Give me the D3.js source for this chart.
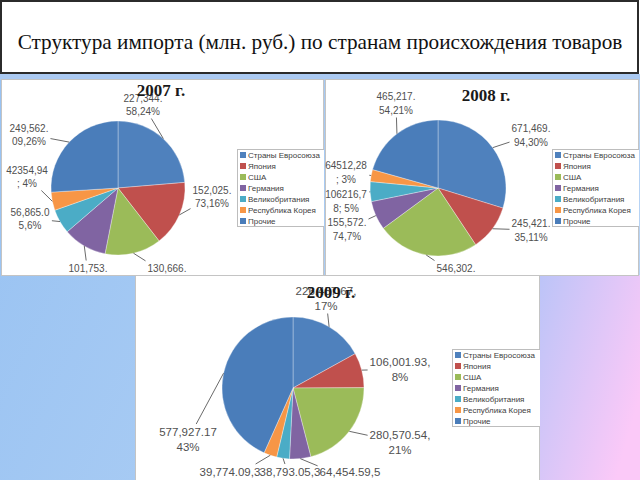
<!DOCTYPE html>
<html><head><meta charset="utf-8">
<script src="https://cdn.jsdelivr.net/npm/d3@7"></script>
<style>html,body{margin:0;padding:0;background:#fff;overflow:hidden}</style>
</head><body><svg id="c" width="640" height="480"></svg>
<script>
// ---------- DATA ----------
const title = "Структура импорта (млн. руб.) по странам происхождения товаров";
const categories = ["Страны Евросоюза","Япония","США","Германия","Великобритания","Республика Корея","Прочие"];
const years = ["2007 г.","2008 г.","2009 г."];
const values2007 = [227344.58, 152025.73, 130666.41, 101753.26, 56865.05, 42354.94, 249562.09];
const values2008 = [671469.94, 245421.35, 546302.13, 155572.74, 106216.78, 64512.28, 465217.54];
const values2009 = [226457.67, 106001.93, 280570.54, 64454.59, 38793.05, 39774.09, 577927.17];
const labels2007 = ["227,344.58,24%","152,025.73,16%","130,666.41,14%","101,753.26,11%","56,865.05,6%","42354,94; 4%","249,562.09,26%"];
const labels2008 = ["671,469.94,30%","245,421.35,11%","546,302.13,24%","155,572.74,7%","106216,78; 5%","64512,28; 3%","465,217.54,21%"];
const labels2009 = ["226,457.67,17%","106,001.93,8%","280,570.54,21%","64,454.59,5%","38,793.05,3%","39,774.09,3%","577,927.17 43%"];
const colors = ["#4f81bd","#c0504d","#9bbb59","#8064a2","#4bacc6","#f79646","#4a7dba"];

// ---------- LAYOUT ----------
const charts = [
  {year: years[0], values: values2007, labels: labels2007,
   panel:{x:1,y:79,w:323,h:196}, cx:118, cy:188, r:67, tx:161, ty:90,
   legend:{x:237,y:149,w:88}, font:10, wrap:8, lineH:13,
   off:[[25,-90],[94,2],[49,80],[-30,80],[-88,24],[-91,-18],[-89,-60]]},
  {year: years[1], values: values2008, labels: labels2008,
   panel:{x:325,y:79,w:314,h:196}, cx:438, cy:188, r:68, tx:486, ty:95,
   legend:{x:552,y:149,w:87}, font:10, wrap:8, lineH:14,
   off:[[93,-60],[93,35],[18,80],[-91,34],[-92,6],[-92,-23],[-42,-92]]},
  {year: years[2], values: values2009, labels: labels2009,
   panel:{x:135,y:275,w:405,h:206}, cx:293, cy:388, r:71, tx:331, ty:292,
   legend:{x:452,y:349,w:88}, font:11.5, wrap:11, lineH:14.5,
   off:[[33,-97],[107,-26],[107,47],[57,84],[-3,84],[-63,84],[-105,44]]}
];

const svg = d3.select("#c");
const defs = svg.append("defs");

// background gradients
const gl = defs.append("linearGradient").attr("id","gl").attr("x1","0").attr("y1","0").attr("x2","1").attr("y2","0.3");
gl.append("stop").attr("offset","0").attr("stop-color","#98c2f2");
gl.append("stop").attr("offset","1").attr("stop-color","#b6d3f5");
const gr = defs.append("linearGradient").attr("id","gr").attr("x1","0").attr("y1","0").attr("x2","1").attr("y2","0.6");
gr.append("stop").attr("offset","0").attr("stop-color","#bcc4f8");
gr.append("stop").attr("offset","1").attr("stop-color","#fbc9f8");

svg.append("rect").attr("x",0).attr("y",74).attr("width",640).attr("height",406).attr("fill","url(#gl)");
svg.append("rect").attr("x",540).attr("y",275).attr("width",100).attr("height",205).attr("fill","url(#gr)");
svg.append("rect").attr("x",0).attr("y",74).attr("width",640).attr("height",6).attr("fill","#abcaf2");

charts.forEach((c, ci) => {
  const p = c.panel;
  defs.append("clipPath").attr("id","clip"+ci).append("rect")
    .attr("x",p.x).attr("y",p.y).attr("width",p.w).attr("height",p.h);
  svg.append("rect").attr("x",p.x+0.5).attr("y",p.y+0.5).attr("width",p.w-1).attr("height",p.h)
    .attr("fill","#fff").attr("stroke","#c4c4c4").attr("stroke-width",1);
  const g = svg.append("g").attr("clip-path","url(#clip"+ci+")");

  const pie = d3.pie().sort(null).value(d => d)(c.values);
  const arc = d3.arc().innerRadius(0).outerRadius(c.r);
  const pg = g.append("g").attr("transform",`translate(${c.cx},${c.cy})`);
  pg.selectAll("path").data(pie).join("path")
    .attr("d", arc).attr("fill", (d,i) => colors[i])
    .attr("stroke","#ffffff").attr("stroke-opacity",0.55).attr("stroke-width",0.6);

  // labels
  const lg = g.append("g");
  pie.forEach((d, i) => {
    const s = c.labels[i];
    const lines = [];
    for (let k = 0; k < s.length; k += c.wrap) lines.push(s.slice(k, k + c.wrap));
    const lx = c.cx + c.off[i][0], ly = c.cy + c.off[i][1];
    const t = lg.append("text").attr("x", lx).attr("y", ly)
      .attr("text-anchor","middle").attr("font-family","'Liberation Sans', Arial, sans-serif")
      .attr("font-size", c.font).attr("fill","#505050");
    lines.forEach((ln, k) => {
      t.append("tspan").attr("x", lx).attr("y", ly + k * c.lineH).attr("dy","0.35em").text(ln.trim());
    });
    const bb = t.node().getBBox();
    const mid = (d.startAngle + d.endAngle) / 2;
    const ex = c.cx + c.r * Math.sin(mid), ey = c.cy - c.r * Math.cos(mid);
    const bh = Math.min(bb.height, c.lineH * 2);
    const bcx = bb.x + bb.width / 2, bcy = bb.y + bh / 2;
    const dx = ex - bcx, dy = ey - bcy, pad = 2;
    const txx = dx !== 0 ? (bb.width / 2 + pad) / Math.abs(dx) : Infinity;
    const tyy = dy !== 0 ? (bh / 2 + pad) / Math.abs(dy) : Infinity;
    const tt = Math.min(txx, tyy);
    if (tt < 1) {
      lg.append("line").attr("x1", bcx + dx * tt).attr("y1", bcy + dy * tt)
        .attr("x2", ex).attr("y2", ey).attr("stroke","#6a6a6a").attr("stroke-width",1);
    }
  });

  // legend
  const L = c.legend;
  const leg = g.append("g");
  leg.append("rect").attr("x",L.x+0.5).attr("y",L.y+0.5).attr("width",L.w).attr("height",77)
    .attr("fill","#fff").attr("stroke","#bdbdbd").attr("stroke-width",1);
  categories.forEach((name, i) => {
    const yy = L.y + 6 + i * 11;
    leg.append("rect").attr("x", L.x + 3).attr("y", yy - 3).attr("width",6).attr("height",6).attr("fill", colors[i]);
    leg.append("text").attr("x", L.x + 11).attr("y", yy).attr("dy","0.35em")
      .attr("font-family","'Liberation Sans', Arial, sans-serif").attr("font-size",8).attr("fill","#404040").text(name);
  });

  // chart title
  g.append("text").attr("x", c.tx).attr("y", c.ty).attr("dy","0.35em").attr("text-anchor","middle")
    .attr("font-family","'Liberation Serif', 'Times New Roman', serif").attr("font-weight","bold")
    .attr("font-size",17).attr("fill","#1a1a1a").text(c.year);
});

// title box
svg.append("rect").attr("x",1).attr("y",1).attr("width",637).attr("height",72)
  .attr("fill","#fff").attr("stroke","#2b2b2b").attr("stroke-width",2);
const tt = svg.append("text").attr("x",320).attr("y",42).attr("dy","0.35em").attr("text-anchor","middle")
  .attr("font-family","'Liberation Serif', 'Times New Roman', serif").attr("font-size",20).attr("fill","#111").text(title);
const w = tt.node().getComputedTextLength();
tt.attr("font-size", 20 * 605 / w);
</script></body></html>
